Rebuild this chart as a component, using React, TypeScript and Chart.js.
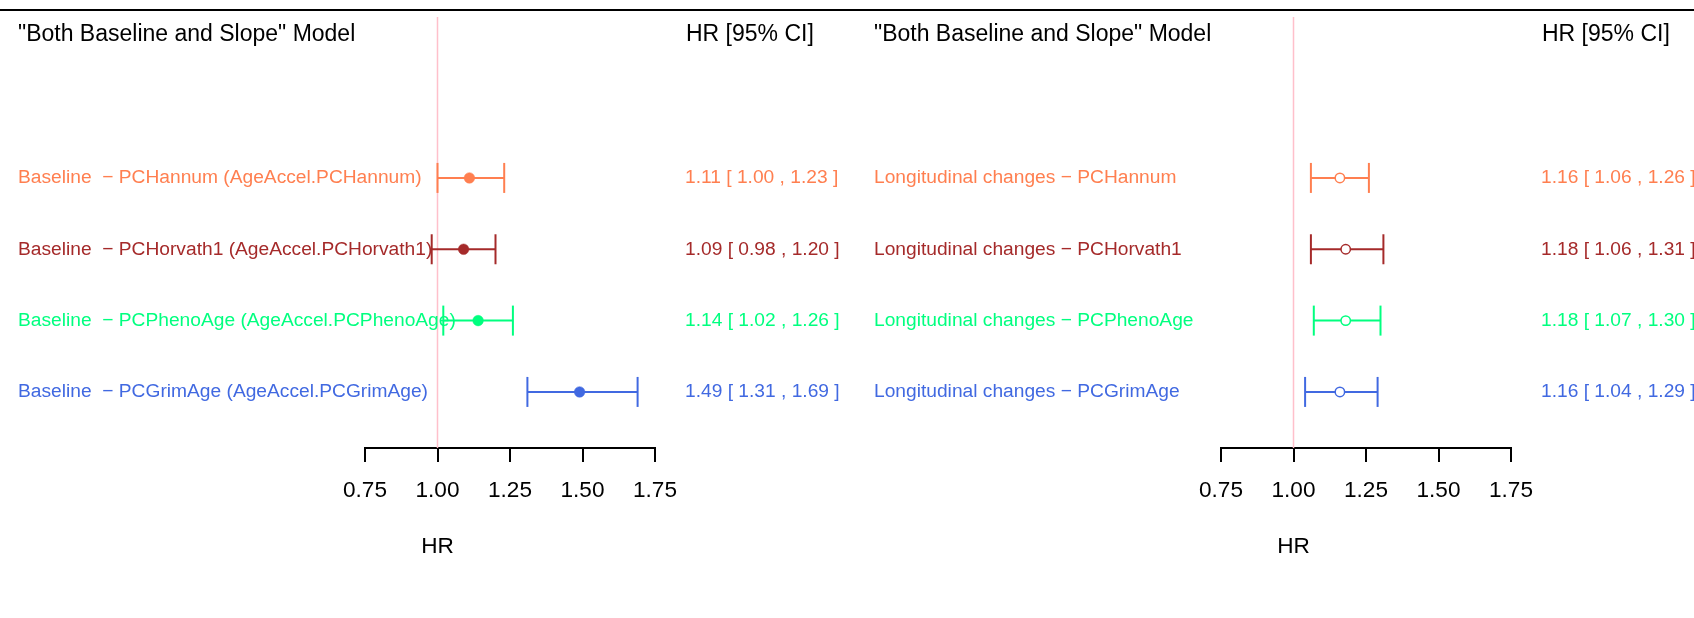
import React, { useEffect, useRef } from "react";
import { Chart, registerables } from "chart.js";

Chart.register(...registerables);

// ---- data ----
const rows = [1, 2, 3, 4];
const rowColors = ["#FF7F50", "#A52A2A", "#00FF7F", "#4169E1"];

const leftLabels = [
  "Baseline  \u2212 PCHannum (AgeAccel.PCHannum)",
  "Baseline  \u2212 PCHorvath1 (AgeAccel.PCHorvath1)",
  "Baseline  \u2212 PCPhenoAge (AgeAccel.PCPhenoAge)",
  "Baseline  \u2212 PCGrimAge (AgeAccel.PCGrimAge)",
];
const leftEst = [1.11, 1.09, 1.14, 1.49];
const leftLower = [1.0, 0.98, 1.02, 1.31];
const leftUpper = [1.23, 1.2, 1.26, 1.69];

const rightLabels = [
  "Longitudinal changes \u2212 PCHannum",
  "Longitudinal changes \u2212 PCHorvath1",
  "Longitudinal changes \u2212 PCPhenoAge",
  "Longitudinal changes \u2212 PCGrimAge",
];
const rightEst = [1.16, 1.18, 1.18, 1.16];
const rightLower = [1.06, 1.06, 1.07, 1.04];
const rightUpper = [1.26, 1.31, 1.3, 1.29];

const xTicks = [0.75, 1.0, 1.25, 1.5, 1.75];
const panelTitle = '"Both Baseline and Slope" Model';
const ciHeader = "HR [95% CI]";
const axisTitle = "HR";
const refValue = 1;

const FONT = '"Liberation Sans", Arial, Helvetica, sans-serif';
const Y_MIN = -1.256;
const Y_MAX = 4.786;
const H = 618;

function fmt(v: number) {
  return v.toFixed(2);
}

function makeChart(
  canvas: HTMLCanvasElement,
  width: number,
  labels: string[],
  est: number[],
  lower: number[],
  upper: number[],
  filled: boolean
) {
  const barSets = rows.map((r, i) => ({
    data: [
      { x: lower[i], y: r },
      { x: upper[i], y: r },
    ],
    showLine: true,
    borderColor: rowColors[i],
    borderWidth: 2,
    pointStyle: "line" as const,
    pointRotation: 90,
    pointRadius: 15,
    pointHoverRadius: 15,
    pointBorderColor: rowColors[i],
    pointBorderWidth: 2,
    clip: false as const,
  }));

  const pointSet = {
    data: rows.map((r, i) => ({ x: est[i], y: r })),
    showLine: false,
    pointStyle: "circle" as const,
    pointRadius: filled ? 5.3 : 4.7,
    pointHoverRadius: filled ? 5.3 : 4.7,
    pointBackgroundColor: filled ? rowColors : rowColors.map(() => "#ffffff"),
    pointBorderColor: rowColors,
    pointBorderWidth: filled ? 0.5 : 1.5,
    clip: false as const,
  };

  const refSet = {
    data: [
      { x: refValue, y: Y_MIN },
      { x: refValue, y: Y_MAX },
    ],
    showLine: true,
    borderColor: "#FFC0CB",
    borderWidth: 1.5,
    pointRadius: 0,
    pointHoverRadius: 0,
    clip: false as const,
  };

  const textPlugin = {
    id: "forestText",
    afterDraw(chart: any) {
      const ctx = chart.ctx as CanvasRenderingContext2D;
      const ys = chart.scales.y;
      const xs = chart.scales.x;
      ctx.save();
      // top rule
      ctx.fillStyle = "#000";
      ctx.fillRect(0, 9, width, 2);
      // titles
      ctx.textBaseline = "middle";
      ctx.textAlign = "left";
      ctx.font = `23px ${FONT}`;
      ctx.fillStyle = "#000";
      ctx.fillText(panelTitle, 18, 35);
      ctx.fillText(ciHeader, 686, 35);
      // axis title, centred on the reference value
      ctx.textAlign = "center";
      ctx.font = `22.6px ${FONT}`;
      ctx.fillText(axisTitle, xs.getPixelForValue(refValue), 547);
      // row labels and values
      ctx.textAlign = "left";
      ctx.font = `19.2px ${FONT}`;
      rows.forEach((r, i) => {
        const py = ys.getPixelForValue(r);
        ctx.fillStyle = rowColors[i];
        ctx.fillText(labels[i], 18, py);
        ctx.fillText(
          `${fmt(est[i])} [ ${fmt(lower[i])} , ${fmt(upper[i])} ]`,
          685,
          py
        );
      });
      ctx.restore();
    },
  };

  return new Chart(canvas, {
    type: "scatter",
    data: { datasets: [pointSet, ...barSets, refSet] as any },
    options: {
      animation: false,
      responsive: false,
      devicePixelRatio: 1,
      events: [],
      layout: { padding: { left: 365, right: width - 655, top: 15, bottom: 0 } },
      plugins: {
        legend: { display: false },
        tooltip: { enabled: false },
        title: { display: false },
      },
      elements: { line: { tension: 0 } },
      scales: {
        x: {
          type: "linear",
          min: xTicks[0],
          max: xTicks[xTicks.length - 1],
          afterBuildTicks: (s: any) => {
            s.ticks = xTicks.map((v) => ({ value: v }));
          },
          afterFit: (s: any) => {
            s.height = 170;
          },
          ticks: {
            callback: (v: any) => Number(v).toFixed(2),
            color: "#000",
            font: { family: FONT, size: 22.6 },
            padding: 15,
            maxRotation: 0,
            autoSkip: false,
          },
          grid: {
            display: true,
            drawOnChartArea: false,
            drawTicks: true,
            tickLength: 14,
            color: "#000",
            lineWidth: 2,
          },
          border: { display: true, color: "#000", width: 2 },
          title: { display: false },
        },
        y: {
          type: "linear",
          display: false,
          reverse: true,
          min: Y_MIN,
          max: Y_MAX,
        },
      },
    },
    plugins: [textPlugin],
  });
}

export default function App() {
  const leftRef = useRef<HTMLCanvasElement>(null);
  const rightRef = useRef<HTMLCanvasElement>(null);

  useEffect(() => {
    const charts: Chart[] = [];
    if (leftRef.current) {
      charts.push(
        makeChart(leftRef.current, 856, leftLabels, leftEst, leftLower, leftUpper, true)
      );
    }
    if (rightRef.current) {
      charts.push(
        makeChart(rightRef.current, 838, rightLabels, rightEst, rightLower, rightUpper, false)
      );
    }
    return () => charts.forEach((c) => c.destroy());
  }, []);

  return (
    <div
      style={{
        position: "absolute",
        left: 0,
        top: 0,
        width: 1694,
        height: H,
        background: "#fff",
        overflow: "hidden",
      }}
    >
      <canvas
        ref={leftRef}
        width={856}
        height={H}
        style={{ position: "absolute", left: 0, top: 0, width: 856, height: H }}
      />
      <canvas
        ref={rightRef}
        width={838}
        height={H}
        style={{ position: "absolute", left: 856, top: 0, width: 838, height: H }}
      />
    </div>
  );
}
